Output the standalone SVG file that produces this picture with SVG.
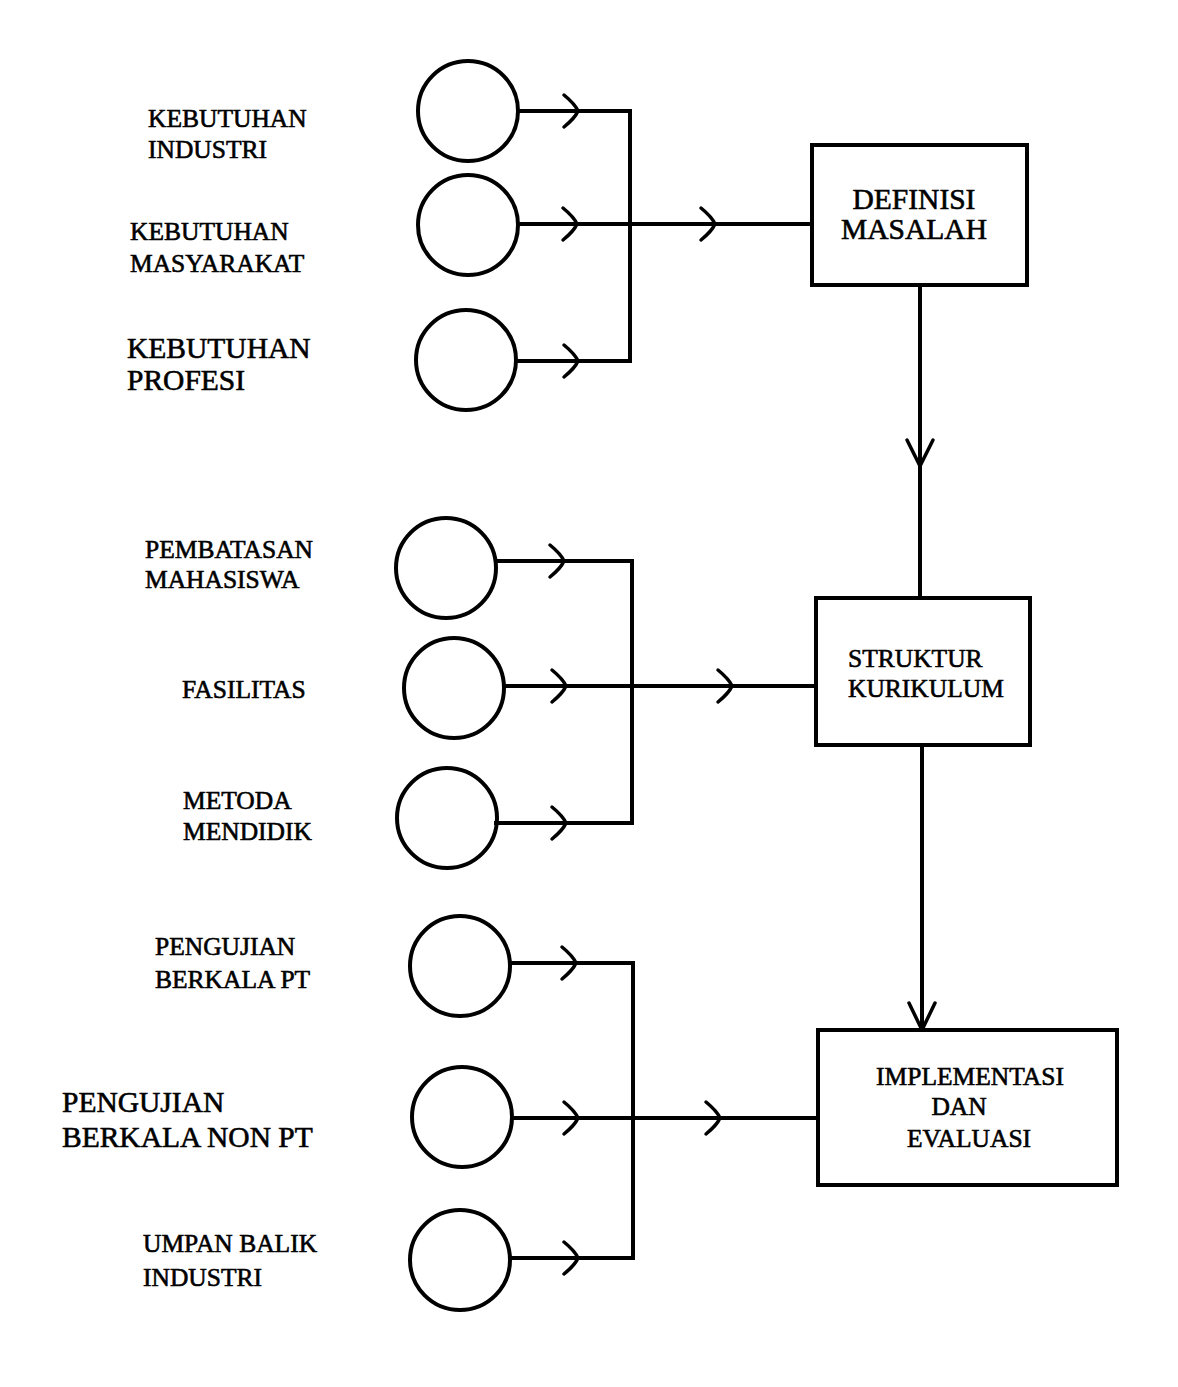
<svg xmlns="http://www.w3.org/2000/svg" width="1178" height="1387" viewBox="0 0 1178 1387">
<style>
.c{fill:none;stroke:#000;stroke-width:4}
.b{fill:#fff;stroke:#000;stroke-width:4}
.l{fill:none;stroke:#000;stroke-width:4;stroke-linecap:square}
.a{fill:none;stroke:#000;stroke-width:3.5;stroke-linecap:round}
text{font-family:"Liberation Serif","Times New Roman",serif;fill:#000;stroke:#000;stroke-width:0.6}
.t{font-size:25.5px}
.tb{font-size:29.5px}
.m{text-anchor:middle}
</style>
<defs>
<path id="chev" d="M -14 -16 Q -3 -7 0 0 Q -3 7 -14 16"/>
</defs>
<rect width="1178" height="1387" fill="#fff"/>
<g id="connectors">
<path class="l" d="M518 111 H630 V361 M516 361 H630 M518 224 H812"/>
<path class="l" d="M920 285 V598"/>
<path class="l" d="M496 561 H632 V823 M496 823 H632 M504 686 H816"/>
<path class="l" d="M922 745 V1030"/>
<path class="l" d="M510 963 H633 V1258 M510 1258 H633 M512 1118 H818"/>
<g class="a">
<use href="#chev" transform="translate(578,111)"/>
<use href="#chev" transform="translate(577,224)"/>
<use href="#chev" transform="translate(715,224)"/>
<use href="#chev" transform="translate(578,361)"/>
<use href="#chev" transform="translate(564,561)"/>
<use href="#chev" transform="translate(566,686)"/>
<use href="#chev" transform="translate(732,686)"/>
<use href="#chev" transform="translate(566,823)"/>
<use href="#chev" transform="translate(576,963)"/>
<use href="#chev" transform="translate(578,1118)"/>
<use href="#chev" transform="translate(720,1118)"/>
<use href="#chev" transform="translate(578,1258)"/>
<path d="M907 440 L920 466 L933 440"/>
<path d="M909 1003 L922 1030 L935 1003"/>
</g>
</g>
<g id="n-keb-industri"><circle class="c" cx="468" cy="111" r="50"/><text class="t" x="148" y="127">KEBUTUHAN</text><text class="t" x="148" y="158">INDUSTRI</text></g>
<g id="n-keb-masyarakat"><circle class="c" cx="468" cy="225" r="50"/><text class="t" x="130" y="240">KEBUTUHAN</text><text class="t" x="130" y="272">MASYARAKAT</text></g>
<g id="n-keb-profesi"><circle class="c" cx="466" cy="360" r="50"/><text class="tb" x="127" y="358">KEBUTUHAN</text><text class="tb" x="127" y="390">PROFESI</text></g>
<g id="n-definisi"><rect class="b" x="812" y="145" width="215" height="140"/><text class="tb m" x="914" y="209">DEFINISI</text><text class="tb m" x="914" y="239">MASALAH</text></g>
<g id="n-pembatasan"><circle class="c" cx="446" cy="568" r="50"/><text class="t" x="145" y="558">PEMBATASAN</text><text class="t" x="145" y="588">MAHASISWA</text></g>
<g id="n-fasilitas"><circle class="c" cx="454" cy="688" r="50"/><text class="t" x="182" y="698">FASILITAS</text></g>
<g id="n-metoda"><circle class="c" cx="447" cy="818" r="50"/><text class="t" x="183" y="809">METODA</text><text class="t" x="183" y="840">MENDIDIK</text></g>
<g id="n-struktur"><rect class="b" x="816" y="598" width="214" height="147"/><text class="t" x="848" y="667">STRUKTUR</text><text class="t" x="848" y="697">KURIKULUM</text></g>
<g id="n-pengujian-pt"><circle class="c" cx="460" cy="966" r="50"/><text class="t" x="155" y="955">PENGUJIAN</text><text class="t" x="155" y="988">BERKALA PT</text></g>
<g id="n-pengujian-nonpt"><circle class="c" cx="462" cy="1117" r="50"/><text class="tb" x="62" y="1112">PENGUJIAN</text><text class="tb" x="62" y="1147">BERKALA NON PT</text></g>
<g id="n-umpan"><circle class="c" cx="460" cy="1260" r="50"/><text class="t" x="143" y="1252">UMPAN BALIK</text><text class="t" x="143" y="1286">INDUSTRI</text></g>
<g id="n-implementasi"><rect class="b" x="818" y="1030" width="299" height="155"/><text class="t m" x="970" y="1085">IMPLEMENTASI</text><text class="t m" x="959" y="1115">DAN</text><text class="t m" x="969" y="1147">EVALUASI</text></g>
</svg>
